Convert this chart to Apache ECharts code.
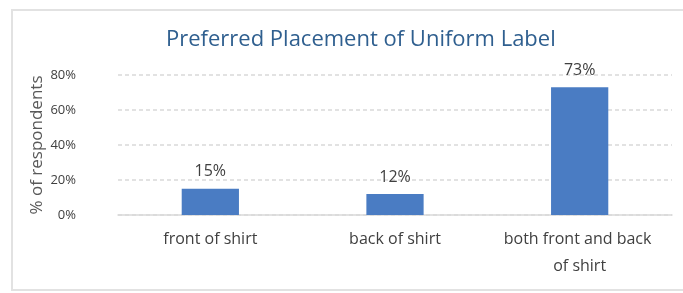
<!DOCTYPE html>
<html><head><meta charset="utf-8">
<script src="https://cdn.jsdelivr.net/npm/echarts@6/dist/echarts.min.js"></script>
<style>html,body{margin:0;padding:0;background:#fff}#c{width:683px;height:293px}</style>
</head><body><div id="c"></div>
<script>
const categories = ['front of shirt', 'back of shirt', 'both front and back of shirt'];
const values = [15, 12, 73];
const yTicks = [0, 20, 40, 60, 80];
const titleText = 'Preferred Placement of Uniform Label';
const yName = '% of respondents';

const chart = echarts.init(document.getElementById('c'), null, {renderer: 'canvas'});
chart.setOption({
  animation: false,
  backgroundColor: '#fff',
  graphic: [{
    type: 'rect', shape: {x: 12, y: 10, width: 700, height: 280},
    style: {fill: 'none', stroke: '#e2e2e2', lineWidth: 2}, z: -1
  }],
  title: {
    text: titleText, left: 161, top: 24,
    textStyle: {fontFamily: 'Open Sans', fontWeight: 'normal', fontSize: 22, color: '#2f5f8f'}
  },
  grid: {left: 118, right: 11, top: 75, bottom: 78},
  xAxis: {
    type: 'category', data: categories,
    axisLine: {lineStyle: {color: '#d9d9d9', width: 1.5}},
    axisTick: {show: false},
    axisLabel: {interval: 0, fontFamily: 'Open Sans', fontSize: 16, color: '#404040', margin: 11,
      width: 160, overflow: 'break', lineHeight: 27}
  },
  yAxis: {
    type: 'value', min: yTicks[0], max: yTicks[yTicks.length-1], interval: 20,
    name: yName, nameLocation: 'middle', nameGap: 72, nameRotate: 90, nameMoveOverlap: false,
    nameTextStyle: {fontFamily: 'Open Sans', fontSize: 17, color: '#595959'},
    axisLabel: {formatter: '{value}%', fontFamily: 'Open Sans', fontSize: 13, color: '#404040', margin: 42},
    axisLine: {show: false}, axisTick: {show: false},
    splitLine: {lineStyle: {color: '#d9d9d9', type: [4, 3], width: 1.5}}
  },
  series: [{
    type: 'bar', data: values, barWidth: '31%',
    itemStyle: {color: '#4a7cc3'},
    label: {show: true, position: 'top', distance: 9, formatter: '{c}%',
      fontFamily: 'Open Sans', fontSize: 16, color: '#404040'}
  }]
});
</script></body></html>
